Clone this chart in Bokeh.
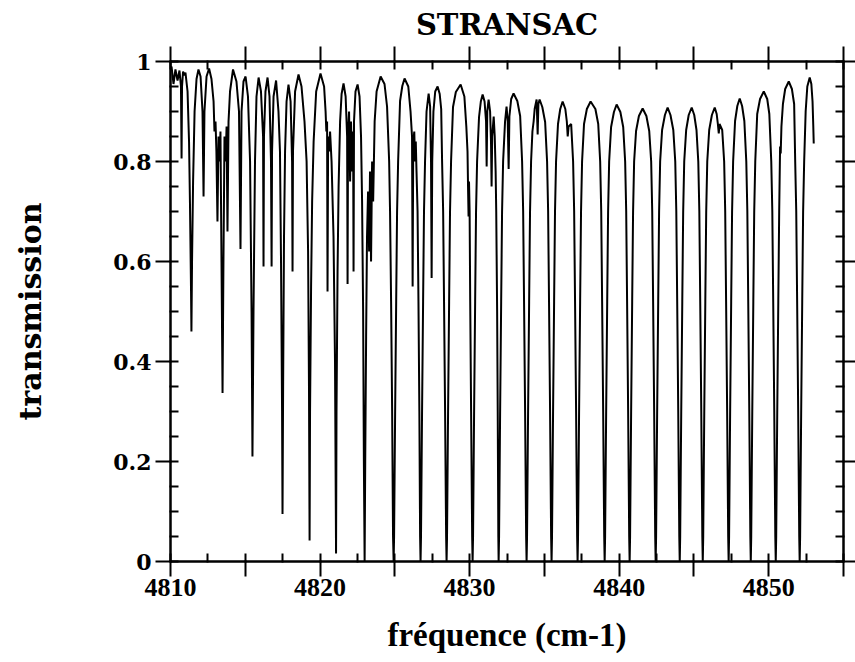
from bokeh.plotting import figure
from bokeh.models import Range1d, LinearAxis, SingleIntervalTicker, CustomJSTickFormatter
from bokeh.embed import file_html
from bokeh.resources import INLINE

# ---------------- data ----------------
# region A : 4810 - 4823 cm-1 (dense, irregular lines)
nu_a = [4810.00, 4810.07, 4810.20, 4810.33, 4810.47, 4810.60, 4810.70, 4810.74, 4810.77, 4810.84,
        4810.94, 4811.00, 4811.14, 4811.24, 4811.30, 4811.37, 4811.40, 4811.44, 4811.51, 4811.61,
        4811.74, 4811.87, 4812.01, 4812.14, 4812.21, 4812.27, 4812.41, 4812.58, 4812.74, 4812.88,
        4812.94, 4813.01, 4813.07, 4813.14, 4813.21, 4813.28, 4813.34, 4813.41, 4813.48, 4813.54,
        4813.61, 4813.68, 4813.75, 4813.81, 4813.88, 4813.98, 4814.18, 4814.41, 4814.58, 4814.68,
        4814.75, 4814.88, 4815.02, 4815.18, 4815.32, 4815.42, 4815.48, 4815.55, 4815.65, 4815.75,
        4815.89, 4816.05, 4816.19, 4816.22, 4816.25, 4816.35, 4816.49, 4816.62, 4816.72, 4816.76,
        4816.79, 4816.89, 4817.06, 4817.22, 4817.32, 4817.39, 4817.46, 4817.49, 4817.53, 4817.59,
        4817.66, 4817.76, 4817.89, 4818.03, 4818.13, 4818.16, 4818.19, 4818.33, 4818.56, 4818.76,
        4818.96, 4819.10, 4819.20, 4819.26, 4819.30, 4819.33, 4819.40, 4819.47, 4819.57, 4819.74,
        4820.03, 4820.27, 4820.37, 4820.42, 4820.47, 4820.50, 4820.54, 4820.60, 4820.67, 4820.77,
        4820.90, 4821.00, 4821.07, 4821.10, 4821.17, 4821.24, 4821.34, 4821.44, 4821.57, 4821.71,
        4821.81, 4821.84, 4821.87, 4821.94, 4822.01, 4822.07, 4822.14, 4822.21, 4822.24, 4822.27,
        4822.37, 4822.51, 4822.64, 4822.74, 4822.81, 4822.88, 4822.93, 4822.98]
tr_a = [0.985, 0.990, 0.955, 0.984, 0.962, 0.982, 0.950, 0.806, 0.950, 0.980,
        0.972, 0.978, 0.940, 0.840, 0.720, 0.550, 0.460, 0.600, 0.760, 0.900,
        0.965, 0.984, 0.970, 0.900, 0.730, 0.900, 0.970, 0.986, 0.965, 0.920,
        0.860, 0.880, 0.820, 0.680, 0.850, 0.800, 0.860, 0.600, 0.337, 0.600,
        0.850, 0.800, 0.870, 0.660, 0.880, 0.940, 0.984, 0.960, 0.900, 0.625,
        0.900, 0.960, 0.970, 0.930, 0.800, 0.500, 0.210, 0.500, 0.800, 0.930,
        0.968, 0.940, 0.850, 0.590, 0.850, 0.940, 0.968, 0.930, 0.800, 0.590,
        0.820, 0.930, 0.962, 0.900, 0.820, 0.600, 0.300, 0.095, 0.350, 0.650,
        0.820, 0.920, 0.954, 0.920, 0.800, 0.580, 0.820, 0.940, 0.974, 0.950,
        0.880, 0.800, 0.620, 0.350, 0.042, 0.300, 0.550, 0.720, 0.840, 0.940,
        0.976, 0.950, 0.900, 0.860, 0.880, 0.540, 0.850, 0.820, 0.860, 0.800,
        0.650, 0.400, 0.016, 0.300, 0.580, 0.750, 0.880, 0.935, 0.956, 0.930,
        0.850, 0.555, 0.850, 0.900, 0.760, 0.880, 0.780, 0.860, 0.580, 0.880,
        0.940, 0.954, 0.930, 0.850, 0.720, 0.500, 0.200, 0.000]

# region B : 4823 - 4837 cm-1 (one arch per row)
nu_b = [4823.02, 4823.08, 4823.14, 4823.21, 4823.28, 4823.34, 4823.41, 4823.48, 4823.55, 4823.65, 4823.78, 4824.05, 4824.31, 4824.48, 4824.62, 4824.68, 4824.75, 4824.82, 4824.88, 4824.92,
        4824.95, 4825.02, 4825.09, 4825.15, 4825.22, 4825.35, 4825.50, 4825.65, 4825.90, 4826.05, 4826.15, 4826.19, 4826.23, 4826.30, 4826.35, 4826.40, 4826.45, 4826.52, 4826.58, 4826.64, 4826.69, 4826.72,
        4826.75, 4826.82, 4826.89, 4826.95, 4827.02, 4827.12, 4827.26, 4827.36, 4827.42, 4827.46, 4827.50, 4827.58, 4827.70, 4827.86, 4828.00, 4828.10, 4828.16, 4828.23, 4828.29, 4828.36, 4828.43, 4828.46,
        4828.49, 4828.56, 4828.63, 4828.69, 4828.76, 4828.89, 4829.08, 4829.40, 4829.65, 4829.78, 4829.86, 4829.90, 4829.93, 4829.96, 4830.00, 4830.04, 4830.10, 4830.17, 4830.20,
        4830.23, 4830.30, 4830.37, 4830.43, 4830.50, 4830.63, 4830.75, 4830.87, 4831.00, 4831.10, 4831.14, 4831.18, 4831.27, 4831.37, 4831.43, 4831.47, 4831.51, 4831.61, 4831.68, 4831.74, 4831.78, 4831.84, 4831.88, 4831.92, 4831.94,
        4831.97, 4832.04, 4832.11, 4832.17, 4832.24, 4832.37, 4832.47, 4832.55, 4832.61, 4832.66, 4832.78, 4832.94, 4833.19, 4833.38, 4833.51, 4833.58, 4833.64, 4833.71, 4833.78, 4833.81,
        4833.84, 4833.91, 4833.98, 4834.04, 4834.11, 4834.20, 4834.28, 4834.35, 4834.48, 4834.55, 4834.60, 4834.68, 4834.86, 4835.05, 4835.18, 4835.25, 4835.31, 4835.38, 4835.45, 4835.48,
        4835.51, 4835.58, 4835.65, 4835.71, 4835.78, 4835.91, 4836.06, 4836.22, 4836.40, 4836.50, 4836.56, 4836.62, 4836.79, 4836.92, 4836.99, 4837.05, 4837.12, 4837.19, 4837.22]
tr_b = [0.20, 0.45, 0.65, 0.74, 0.62, 0.78, 0.60, 0.80, 0.72, 0.88, 0.94, 0.970, 0.955, 0.91, 0.80, 0.70, 0.52, 0.30, 0.05, 0.0,
        0.05, 0.30, 0.52, 0.70, 0.80, 0.921, 0.951, 0.966, 0.95, 0.90, 0.85, 0.55, 0.84, 0.86, 0.80, 0.84, 0.78, 0.70, 0.52, 0.30, 0.05, 0.0,
        0.05, 0.30, 0.52, 0.70, 0.80, 0.90, 0.936, 0.91, 0.80, 0.567, 0.80, 0.90, 0.94, 0.950, 0.935, 0.905, 0.80, 0.70, 0.52, 0.30, 0.05, 0.0,
        0.05, 0.30, 0.52, 0.70, 0.80, 0.909, 0.939, 0.954, 0.93, 0.87, 0.82, 0.74, 0.69, 0.76, 0.70, 0.52, 0.30, 0.05, 0.0,
        0.05, 0.30, 0.52, 0.70, 0.80, 0.889, 0.92, 0.934, 0.92, 0.88, 0.79, 0.90, 0.924, 0.90, 0.84, 0.75, 0.85, 0.89, 0.85, 0.78, 0.70, 0.50, 0.30, 0.05, 0.0,
        0.05, 0.30, 0.52, 0.70, 0.80, 0.88, 0.91, 0.88, 0.785, 0.89, 0.925, 0.936, 0.921, 0.891, 0.80, 0.70, 0.52, 0.30, 0.05, 0.0,
        0.05, 0.30, 0.52, 0.70, 0.80, 0.86, 0.88, 0.905, 0.924, 0.854, 0.915, 0.924, 0.909, 0.879, 0.80, 0.70, 0.52, 0.30, 0.05, 0.0,
        0.05, 0.30, 0.52, 0.70, 0.80, 0.875, 0.905, 0.920, 0.905, 0.88, 0.85, 0.87, 0.875, 0.80, 0.70, 0.52, 0.30, 0.05, 0.0]

# region C : 4837 - 4853 cm-1 (one arch per row)
nu_c = [4837.25, 4837.32, 4837.39, 4837.45, 4837.52, 4837.65, 4837.84, 4838.09, 4838.41, 4838.60, 4838.73, 4838.80, 4838.86, 4838.93, 4839.00, 4839.03,
        4839.06, 4839.13, 4839.20, 4839.26, 4839.33, 4839.46, 4839.65, 4839.83, 4840.08, 4840.27, 4840.40, 4840.47, 4840.53, 4840.60, 4840.67, 4840.70,
        4840.73, 4840.80, 4840.87, 4840.93, 4841.00, 4841.13, 4841.32, 4841.57, 4841.82, 4842.01, 4842.14, 4842.21, 4842.27, 4842.34, 4842.41, 4842.44,
        4842.47, 4842.54, 4842.61, 4842.67, 4842.74, 4842.87, 4843.06, 4843.24, 4843.43, 4843.62, 4843.75, 4843.82, 4843.88, 4843.95, 4844.02, 4844.05,
        4844.08, 4844.15, 4844.22, 4844.28, 4844.35, 4844.48, 4844.65, 4844.85, 4845.02, 4845.17, 4845.29, 4845.36, 4845.42, 4845.49, 4845.56, 4845.59,
        4845.62, 4845.69, 4845.76, 4845.82, 4845.89, 4846.02, 4846.20, 4846.39, 4846.52, 4846.60, 4846.66, 4846.71, 4846.89, 4847.02, 4847.09, 4847.15, 4847.22, 4847.29, 4847.32,
        4847.35, 4847.42, 4847.49, 4847.55, 4847.62, 4847.75, 4847.90, 4848.06, 4848.22, 4848.37, 4848.50, 4848.57, 4848.63, 4848.70, 4848.77, 4848.80,
        4848.83, 4848.90, 4848.97, 4849.03, 4849.10, 4849.23, 4849.42, 4849.67, 4849.90, 4850.04, 4850.17, 4850.24, 4850.30, 4850.37, 4850.44, 4850.47,
        4850.50, 4850.57, 4850.64, 4850.70, 4850.76, 4850.80, 4850.85, 4850.95, 4851.10, 4851.34, 4851.55, 4851.70, 4851.77, 4851.84, 4851.90, 4851.97, 4852.04, 4852.07,
        4852.10, 4852.17, 4852.24, 4852.30, 4852.37, 4852.47, 4852.58, 4852.74, 4852.85, 4852.93, 4852.98, 4853.01]
tr_c = [0.05, 0.30, 0.52, 0.70, 0.80, 0.875, 0.905, 0.920, 0.905, 0.875, 0.80, 0.70, 0.52, 0.30, 0.05, 0.0,
        0.05, 0.30, 0.52, 0.70, 0.80, 0.869, 0.899, 0.914, 0.899, 0.869, 0.80, 0.70, 0.52, 0.30, 0.05, 0.0,
        0.05, 0.30, 0.52, 0.70, 0.80, 0.861, 0.891, 0.906, 0.891, 0.861, 0.80, 0.70, 0.52, 0.30, 0.05, 0.0,
        0.05, 0.30, 0.52, 0.70, 0.80, 0.863, 0.893, 0.908, 0.893, 0.863, 0.80, 0.70, 0.52, 0.30, 0.05, 0.0,
        0.05, 0.30, 0.52, 0.70, 0.80, 0.863, 0.893, 0.908, 0.893, 0.863, 0.80, 0.70, 0.52, 0.30, 0.05, 0.0,
        0.05, 0.30, 0.52, 0.70, 0.80, 0.863, 0.893, 0.908, 0.895, 0.875, 0.856, 0.875, 0.863, 0.80, 0.70, 0.52, 0.30, 0.05, 0.0,
        0.05, 0.30, 0.52, 0.70, 0.80, 0.881, 0.911, 0.926, 0.911, 0.881, 0.80, 0.70, 0.52, 0.30, 0.05, 0.0,
        0.05, 0.30, 0.52, 0.70, 0.80, 0.895, 0.925, 0.940, 0.925, 0.895, 0.80, 0.70, 0.52, 0.30, 0.05, 0.0,
        0.05, 0.30, 0.52, 0.70, 0.83, 0.816, 0.87, 0.915, 0.945, 0.960, 0.945, 0.915, 0.80, 0.70, 0.52, 0.30, 0.05, 0.0,
        0.05, 0.30, 0.52, 0.70, 0.80, 0.90, 0.95, 0.968, 0.955, 0.92, 0.87, 0.836]

# tick spacing and texts
x_tick_step = 5          # outward ticks every 5 cm-1, labelled every 10
x_minor_count = 2        # one inward tick between (every 2.5)
y_tick_step = 0.2
y_minor_count = 4        # inward ticks every 0.05

title_text = "STRANSAC"
x_title = "fréquence (cm-1)"
y_title = "transmission"

assert len(nu_a) == len(tr_a) and len(nu_b) == len(tr_b) and len(nu_c) == len(tr_c)
nu = nu_a + nu_b + nu_c
tr = tr_a + tr_b + tr_c

# ---------------- figure ----------------
p = figure(width=855, height=662, output_backend="svg", toolbar_location=None,
           x_range=Range1d(4810, 4855), y_range=Range1d(0, 1), title=title_text,
           min_border_left=170, min_border_right=12, min_border_top=60, min_border_bottom=101)
p.outline_line_color = "black"
p.outline_line_width = 2
p.xgrid.grid_line_color = None
p.ygrid.grid_line_color = None

p.title.align = "center"
p.title.text_font = "DejaVu Serif"
p.title.text_font_size = "29px"
p.title.text_font_style = "bold"
p.title.text_color = "black"

p.line(nu, tr, line_color="black", line_width=2)


def style(ax, out=15):
    ax.axis_line_width = 2
    ax.axis_line_color = "black"
    ax.major_tick_line_width = 2
    ax.minor_tick_line_width = 2
    ax.major_tick_line_color = "black"
    ax.minor_tick_line_color = "black"
    ax.major_tick_out = out
    ax.major_tick_in = 1
    ax.minor_tick_out = 1
    ax.minor_tick_in = 8


def xticker():
    return SingleIntervalTicker(interval=x_tick_step, num_minor_ticks=x_minor_count)


def yticker():
    return SingleIntervalTicker(interval=y_tick_step, num_minor_ticks=y_minor_count)


xb = p.xaxis[0]
xb.ticker = xticker()
xb.formatter = CustomJSTickFormatter(code="return (Math.round(tick) % 10 == 0) ? Math.round(tick).toString() : '';")
style(xb)
xb.major_label_text_color = "black"
xb.major_label_text_font = "Liberation Serif"
xb.major_label_text_font_size = "26px"
xb.major_label_text_font_style = "bold"
xb.major_label_standoff = 2
xb.axis_label = x_title
xb.axis_label_text_color = "black"
xb.axis_label_text_font = "Liberation Serif"
xb.axis_label_text_font_size = "33px"
xb.axis_label_text_font_style = "bold"
xb.axis_label_standoff = 18

yl = p.yaxis[0]
yl.ticker = yticker()
yl.formatter = CustomJSTickFormatter(code="if (Math.abs(tick) < 1e-9) return '0'; if (Math.abs(tick - 1) < 1e-9) return '1'; return tick.toFixed(1);")
style(yl)
yl.major_label_text_color = "black"
yl.major_label_text_font = "DejaVu Serif"
yl.major_label_text_font_size = "22px"
yl.major_label_text_font_style = "bold"
yl.major_label_standoff = 4
yl.axis_label = y_title
yl.axis_label_text_color = "black"
yl.axis_label_text_font = "DejaVu Serif"
yl.axis_label_text_font_size = "30px"
yl.axis_label_text_font_style = "bold"
yl.axis_label_standoff = 62

xt = LinearAxis(ticker=xticker(), formatter=CustomJSTickFormatter(code="return '';"),
                major_label_text_font_size="0px")
style(xt)
p.add_layout(xt, "above")

yr = LinearAxis(ticker=yticker(), formatter=CustomJSTickFormatter(code="return '';"))
yr.major_label_text_color = None
style(yr, out=12)
p.add_layout(yr, "right")

open("out.html", "w").write(file_html(p, INLINE))
